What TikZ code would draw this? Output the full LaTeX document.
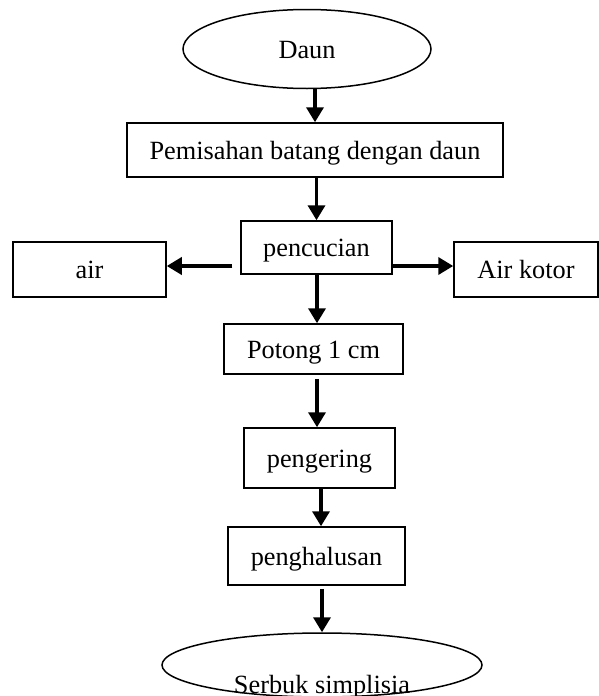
\documentclass[tikz,border=0pt]{standalone}
\usepackage{fontspec}
\setmainfont{Liberation Serif}
\usetikzlibrary{shapes.geometric,arrows.meta,calc}
\begin{document}
\begin{tikzpicture}[x=1pt,y=-1pt,
  font=\fontsize{26.3}{30}\selectfont,
  box/.style={draw, line width=1.5pt, inner sep=0pt, text height=18pt, text depth=0pt},
  ell/.style={draw, ellipse, line width=1.5pt, inner sep=0pt, text height=18pt, text depth=0pt},
  arr/.style={line width=3.5pt, -{Triangle[length=15pt,width=17pt]}}]
\clip (0,0) rectangle (599,696);
\fill[white] (0,0) rectangle (599,696);
\node[ell, minimum width=248pt, minimum height=79pt] (daun) at (307,49) {Daun};
\node[box, minimum width=376pt, minimum height=54pt] (pem) at (315,150) {Pemisahan batang dengan daun};
\node[box, minimum width=151pt, minimum height=53pt] (penc) at (316.5,247.5) {pencucian};
\node[box, minimum width=153pt, minimum height=55pt] (air) at (89.5,269.5) {air};
\node[box, minimum width=144pt, minimum height=55pt] (kotor) at (526,269.5) {Air kotor};
\node[box, minimum width=179pt, minimum height=50pt] (potong) at (313.5,349) {Potong 1 cm};
\node[box, minimum width=151pt, minimum height=60pt] (peng) at (319.5,458) {pengering};
\node[box, minimum width=177pt, minimum height=58pt] (halus) at (316.5,556) {penghalusan};
\node[ell, minimum width=320pt, minimum height=64pt,
  label={[yshift=-22pt]center:Serbuk simplisia}] (serbuk) at (322,665) {};
\coordinate (aE) at ([yshift=3.5pt]air.east);
\coordinate (kW) at ([yshift=3.5pt]kotor.west);
\draw[arr] (daun.south -| pem.north) -- (pem.north);
\draw[arr] (pem.south -| penc.north) -- (penc.north);
\draw[arr] (aE -| penc.west) [shorten <=8pt] -- (aE);
\draw[arr] (kW -| penc.east) -- (kW);
\draw[arr] ([xshift=0.5pt]penc.south) -- ([xshift=0.5pt]penc.south |- potong.north);
\draw[arr, shorten <=4pt] ([xshift=0.5pt]penc.south |- potong.south) -- ([xshift=0.5pt]penc.south |- peng.north);
\draw[arr] ([xshift=1.5pt]peng.south) -- ([xshift=1.5pt]peng.south |- halus.north);
\draw[arr, shorten <=3pt] (serbuk.north |- halus.south) -- (serbuk.north);
\end{tikzpicture}
\end{document}
